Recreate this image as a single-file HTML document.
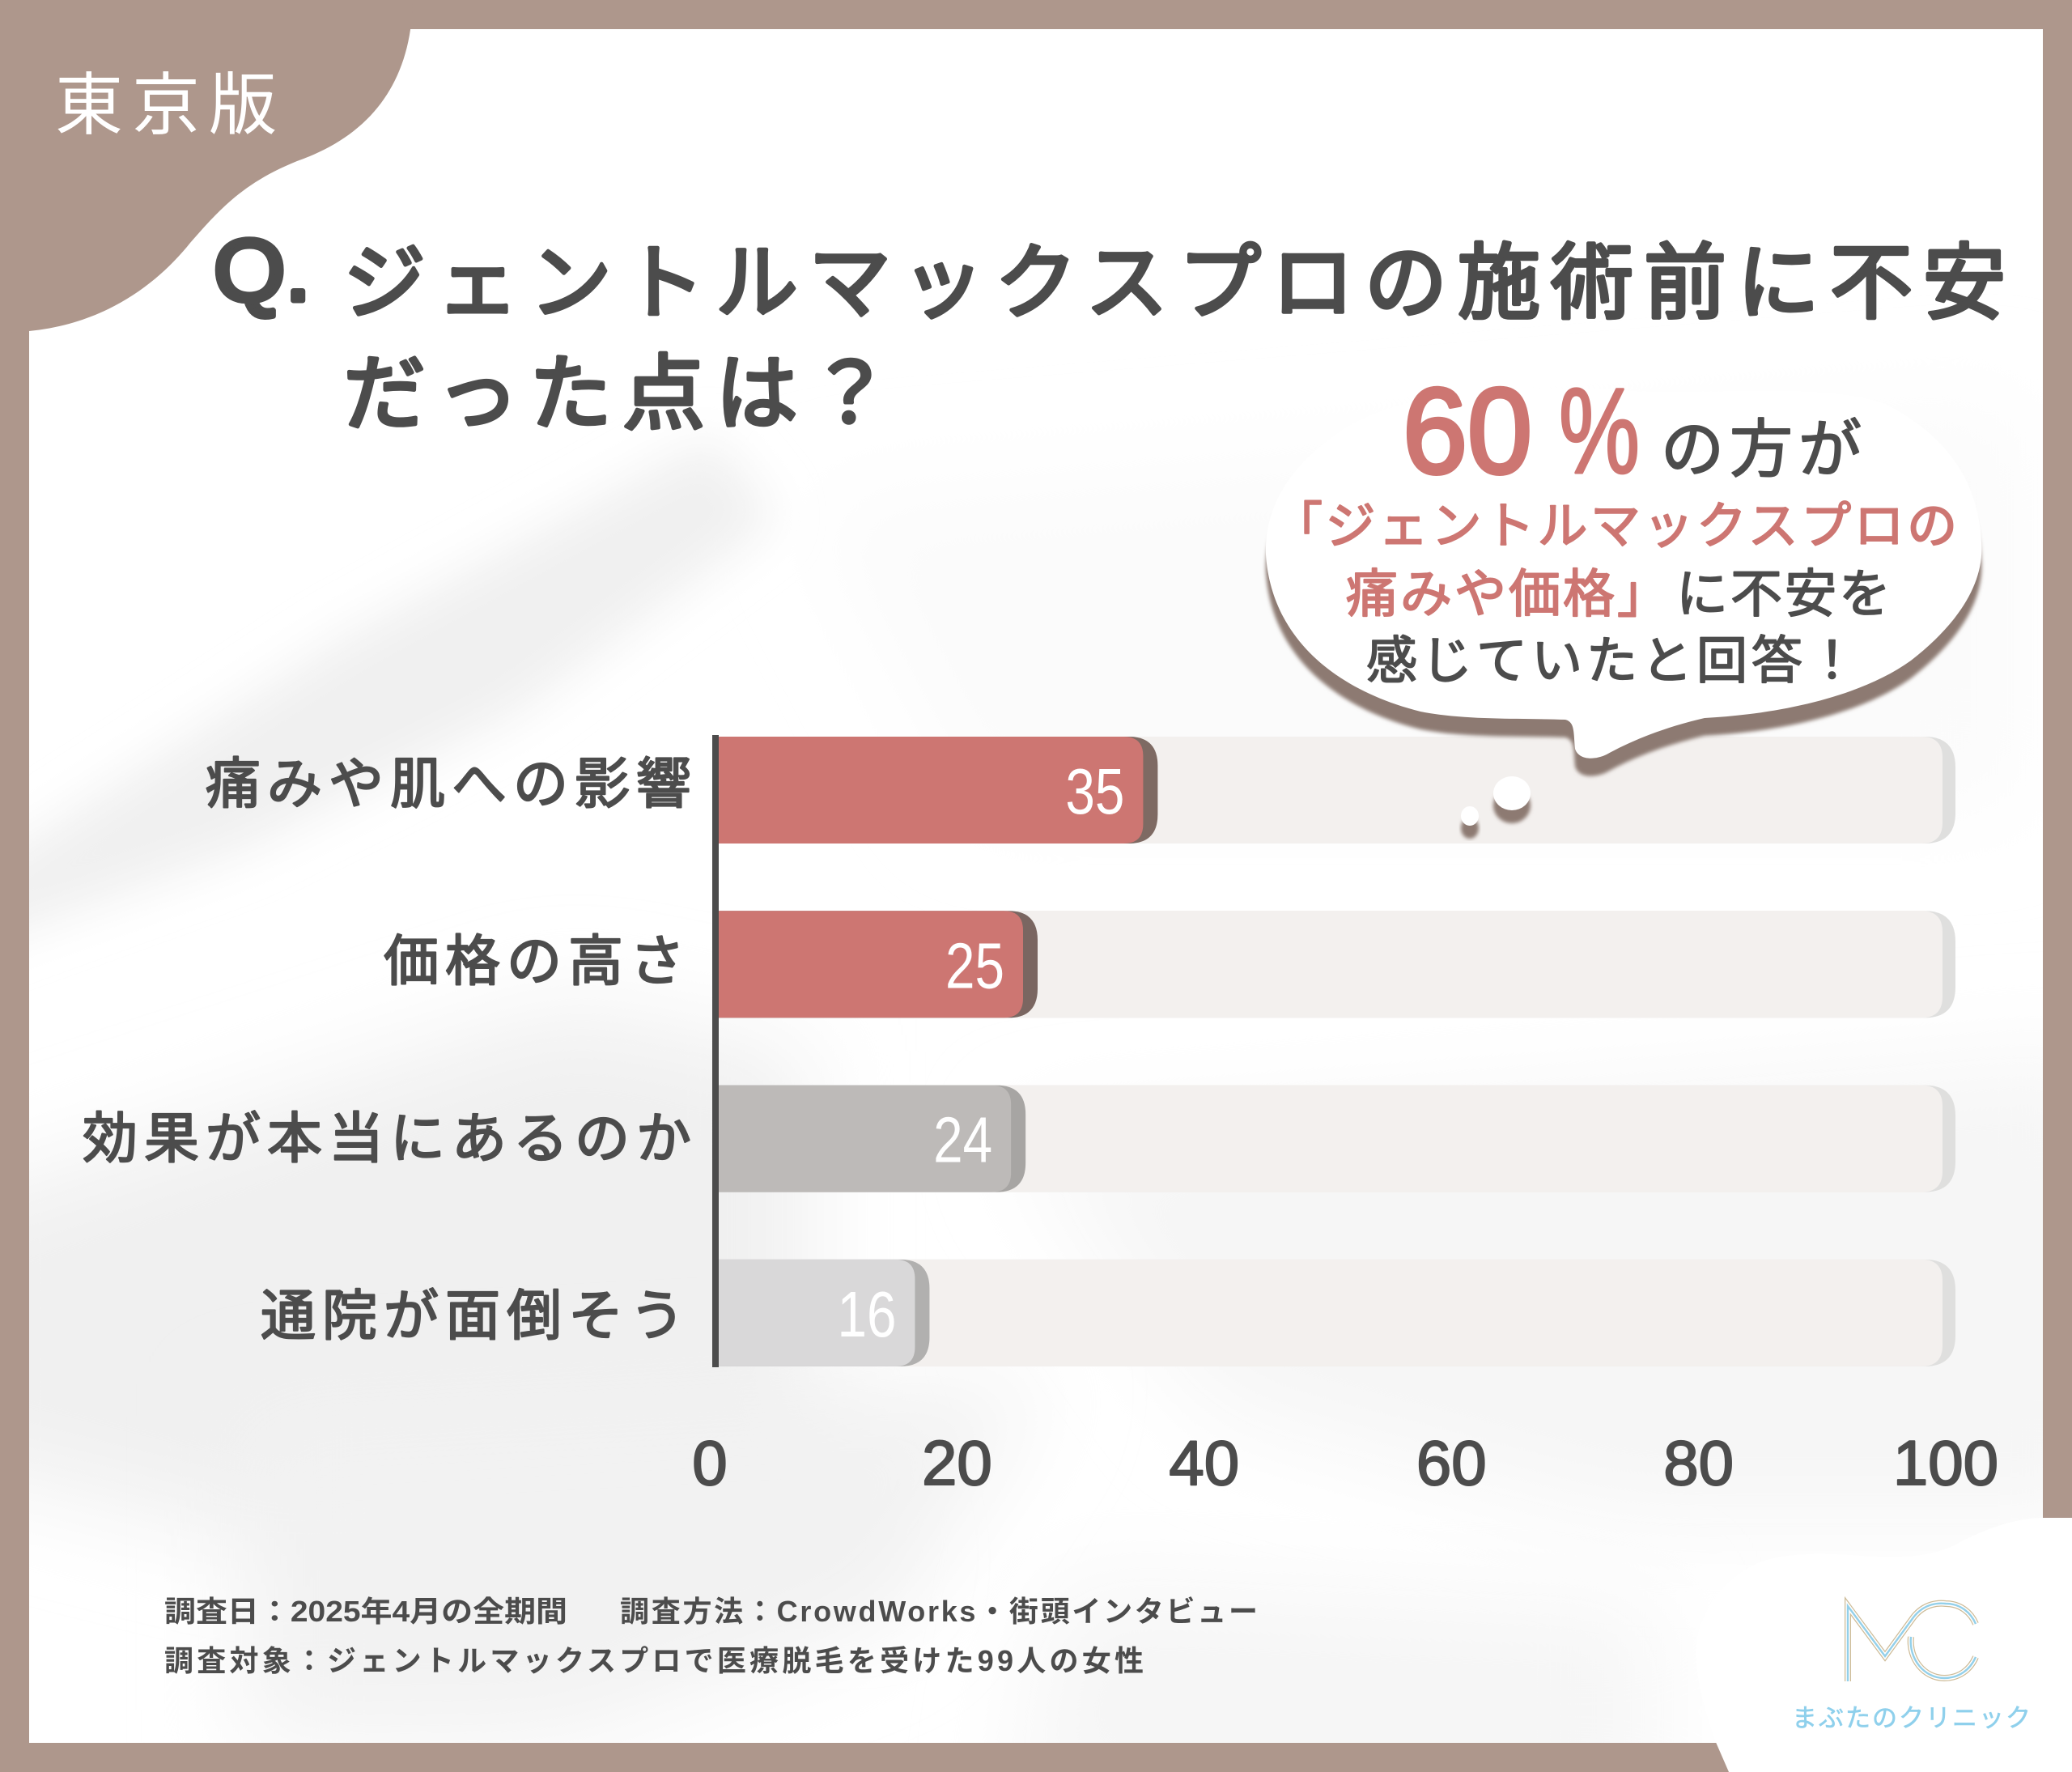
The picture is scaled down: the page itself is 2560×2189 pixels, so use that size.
<!DOCTYPE html>
<html lang="ja">
<head>
<meta charset="utf-8">
<title>ジェントルマックスプロの施術前に不安だった点は？</title>
<style>
html,body{margin:0;padding:0;background:#fff}
svg{display:block}
text{font-family:"Liberation Sans","Noto Sans CJK JP",sans-serif;fill:#4c4c4c;stroke-linejoin:round;stroke-linecap:round}
.round{stroke:#4c4c4c}
.pink{fill:#cd7672;stroke:#cd7672}
</style>
</head>
<body>
<svg id="chart" xmlns="http://www.w3.org/2000/svg" width="2560" height="2189" viewBox="0 0 2560 2189">
  <defs>
    <filter id="b60" x="-30%" y="-30%" width="160%" height="160%"><feGaussianBlur stdDeviation="60"/></filter>
    <filter id="b30" x="-30%" y="-30%" width="160%" height="160%"><feGaussianBlur stdDeviation="30"/></filter>
    <filter id="b3" x="-10%" y="-10%" width="120%" height="120%"><feGaussianBlur stdDeviation="2.5"/></filter>
    <clipPath id="panel"><rect x="36" y="36" width="2488" height="2117"/></clipPath>
  </defs>

  <rect width="2560" height="2189" fill="#ae978c"/>
  <rect x="36" y="36" width="2488" height="2117" fill="#ffffff"/>

  <g clip-path="url(#panel)">
    <path d="M1000 620 L2500 500 L2500 1000 L1200 1000Z" fill="#fbfbfb" filter="url(#b60)"/>
    <path d="M1250 1400 L2620 1300 L2620 1880 L2000 1880 L1500 1750Z" fill="#f6f6f6" filter="url(#b60)"/>
    <path d="M-60 1100 L420 790 L880 540 L960 640 L640 880 L300 1050 L-60 1180Z" fill="#f0f0f0" filter="url(#b30)"/>
    <path d="M-100 1500 L700 1240 L1000 1300 L1000 1700 L1100 1950 L300 1900 L-100 1800Z" fill="#f0f0f0" filter="url(#b60)"/>
    <path d="M300 1750 L1300 1700 L1100 2000 L700 2150 L300 2153Z" fill="#f2f2f2" filter="url(#b60)"/>
    <path d="M1300 1950 L2050 1980 L2050 2250 L1250 2250Z" fill="#f6f6f6" filter="url(#b60)"/>
  </g>

  <path d="M0 0 H510 C508 110 450 170 367 199 C300 226 270 260 235 300 C195 350 130 400 36 409 L0 412Z" fill="#ae978c"/>
  <text x="68" y="159" font-size="84" letter-spacing="11" style="fill:#fff">東京版</text>

  <text class="round" x="264" y="371" font-size="108" stroke-width="7" textLength="120" lengthAdjust="spacingAndGlyphs">Q.</text>
  <text class="round" x="424" y="385" font-size="102" letter-spacing="13" stroke-width="4.5">ジェントルマックスプロの施術前に不安</text>
  <text class="round" x="424" y="522" font-size="102" letter-spacing="13" stroke-width="4.5">だった点は？</text>

  <g id="plot"></g>

  <g>
    <path transform="translate(0,22)" filter="url(#b3)" fill="#8d7a72" d="M1564 685 C1570 780 1640 850 1755 879 C1810 890 1880 887 1934 889 C1946 892 1944 905 1946 925 C1950 938 1968 940 1985 932 C2010 918 2050 900 2106 887 C2200 882 2300 860 2361 816 C2420 770 2452 720 2448 670 C2445 600 2410 540 2329 499 C2250 470 2100 490 2000 482 C1880 475 1740 480 1660 530 C1600 570 1562 620 1564 685Z"/>
    <path fill="#ffffff" d="M1564 685 C1570 780 1640 850 1755 879 C1810 890 1880 887 1934 889 C1946 892 1944 905 1946 925 C1950 938 1968 940 1985 932 C2010 918 2050 900 2106 887 C2200 882 2300 860 2361 816 C2420 770 2452 720 2448 670 C2445 600 2410 540 2329 499 C2250 470 2100 490 2000 482 C1880 475 1740 480 1660 530 C1600 570 1562 620 1564 685Z"/>
    <ellipse cx="1868" cy="995" rx="23" ry="22" fill="#8d7a72" filter="url(#b3)"/>
    <ellipse cx="1868" cy="980" rx="23" ry="21" fill="#ffffff"/>
    <ellipse cx="1816" cy="1023" rx="11" ry="13" fill="#8d7a72" filter="url(#b3)"/>
    <ellipse cx="1816" cy="1008" rx="11" ry="12" fill="#ffffff"/>

    <text class="pink" x="1733" y="584" font-size="150" stroke-width="5" textLength="160" lengthAdjust="spacingAndGlyphs">60</text>
    <text class="pink" x="1926" y="584" font-size="150" stroke-width="3" textLength="100" lengthAdjust="spacingAndGlyphs">%</text>
    <text class="round" x="2052" y="582" font-size="78" letter-spacing="7" stroke-width="2">の方が</text>
    <text class="pink" x="1572" y="671" font-size="62" letter-spacing="3.5" stroke-width="2">「ジェントルマックスプロの</text>
    <text class="pink" x="1663" y="756" font-size="64" letter-spacing="3" stroke-width="2">痛みや価格」</text>
    <text class="round" x="2071" y="756" font-size="64" letter-spacing="3" stroke-width="1.8">に不安を</text>
    <text class="round" x="1688" y="838" font-size="63" letter-spacing="5" stroke-width="1.8">感じていたと回答！</text>
  </g>

  <g>
    <text x="203" y="2003" font-size="36" font-weight="700" textLength="498" lengthAdjust="spacingAndGlyphs">調査日：2025年4月の全期間</text>
    <text x="766" y="2003" font-size="36" font-weight="700" textLength="788" lengthAdjust="spacing">調査方法：CrowdWorks・街頭インタビュー</text>
    <text x="203" y="2064" font-size="36" font-weight="700" textLength="1210" lengthAdjust="spacing">調査対象：ジェントルマックスプロで医療脱毛を受けた99人の女性</text>
  </g>

  <g>
    <path fill="#ffffff" d="M2560 1875 H2524 C2490 1875 2450 1890 2418 1907 C2385 1925 2340 1925 2300 1922 C2260 1919 2210 1917 2174 1930 C2130 1948 2105 1990 2098 2017 C2090 2060 2105 2110 2119 2150 L2136 2189 H2560Z"/>
    <g fill="none" stroke-linejoin="miter">
      <path stroke="#cdbb97" stroke-width="8" d="M2283 2077 V1984 L2329 2046 L2364 1998 C2378 1980 2396 1980 2404 1981 C2422 1981 2435 1992 2441 2006"/>
      <path stroke="#ffffff" stroke-width="5.5" d="M2283 2077 V1984 L2329 2046 L2364 1998 C2378 1980 2396 1980 2404 1981 C2422 1981 2435 1992 2441 2006"/>
      <path stroke="#93d0ea" stroke-width="2.4" d="M2283 2077 V1984 L2329 2046 L2364 1998 C2378 1980 2396 1980 2404 1981 C2422 1981 2435 1992 2441 2006"/>
      <path stroke="#cdbb97" stroke-width="8" d="M2361 2022 C2358 2050 2378 2073 2402 2073 C2420 2073 2434 2063 2441 2047"/>
      <path stroke="#ffffff" stroke-width="5.5" d="M2361 2022 C2358 2050 2378 2073 2402 2073 C2420 2073 2434 2063 2441 2047"/>
      <path stroke="#93d0ea" stroke-width="2.4" d="M2361 2022 C2358 2050 2378 2073 2402 2073 C2420 2073 2434 2063 2441 2047"/>
    </g>
    <text x="2214" y="2133" font-size="31" letter-spacing="2" style="fill:#8fd0ec;stroke:#8fd0ec;stroke-width:.6">まぶたのクリニック</text>
  </g>
</svg>

<script>
const categories = ['痛みや肌への影響', '価格の高さ', '効果が本当にあるのか', '通院が面倒そう'];
const values = [35, 25, 24, 16];
const axisTicks = [0, 20, 40, 60, 80, 100];
const axisMax = 100;

const NS = 'http://www.w3.org/2000/svg';
const plot = document.getElementById('plot');

function barX(v) { return 893 + 14.84 * v; }
function tickX(v) { return 877 + (2404 - 877) * v / axisMax; }
function barTop(i) { return 910 + i * 215.3; }
function labelBaseline(i) { return 992 + i * 219; }
function labelRight(i) { return 862 - (i % 2) * 8; }
const barStart = 886;
const trackEnd = 2400;
const barHeight = 132;
const tipDepth = 18;

function roundedBar(x0, x1, y, h, r) {
  return 'M' + x0 + ' ' + y + ' H' + (x1 - r) + ' Q' + x1 + ' ' + y + ' ' + x1 + ' ' + (y + r) +
    ' V' + (y + h - r) + ' Q' + x1 + ' ' + (y + h) + ' ' + (x1 - r) + ' ' + (y + h) + ' H' + x0 + ' Z';
}

function barFill(v, i) { return ['#cd7672', '#cd7672', '#bdbab8', '#d9d8d9'][i]; }
function barEdge(v, i) { return ['#7e6a63', '#7a6661', '#a7a5a3', '#b1b0af'][i]; }

categories.forEach(function (cat, i) {
  const y = barTop(i);
  const end = barX(values[i]);

  const trackEdge = document.createElementNS(NS, 'path');
  
  
  trackEdge.setAttribute('d', roundedBar(barStart, trackEnd + 16, y, barHeight, 38));
  trackEdge.setAttribute('fill', '#dfdfde');
  plot.appendChild(trackEdge);

  const track = document.createElementNS(NS, 'path');
  
  
  track.setAttribute('d', roundedBar(barStart, trackEnd, y, barHeight, 26));
  track.setAttribute('fill', '#f3f0ee');
  plot.appendChild(track);

  const edge = document.createElementNS(NS, 'path');
  
  
  edge.setAttribute('d', roundedBar(barStart, end + tipDepth, y, barHeight, 36));
  edge.setAttribute('fill', barEdge(values[i], i));
  plot.appendChild(edge);

  const bar = document.createElementNS(NS, 'path');
  
  
  bar.setAttribute('d', roundedBar(barStart, end, y, barHeight, 24));
  bar.setAttribute('fill', barFill(values[i], i));
  plot.appendChild(bar);

  const val = document.createElementNS(NS, 'text');
  
  
  val.setAttribute('x', end - 23);
  val.setAttribute('y', y + 95);
  val.setAttribute('text-anchor', 'end');
  val.setAttribute('font-size', '80');
  val.setAttribute('textLength', '73');
  val.setAttribute('lengthAdjust', 'spacingAndGlyphs');
  val.style.fill = '#ffffff';
  val.textContent = values[i];
  plot.appendChild(val);

  const label = document.createElementNS(NS, 'text');
  
  
  label.setAttribute('class', 'round');
  label.setAttribute('x', labelRight(i));
  label.setAttribute('y', labelBaseline(i));
  label.setAttribute('text-anchor', 'end');
  label.setAttribute('font-size', '68');
  label.setAttribute('letter-spacing', '8');
  label.setAttribute('stroke-width', '2.2');
  label.textContent = cat;
  plot.appendChild(label);
});

const axisLine = document.createElementNS(NS, 'rect');


axisLine.setAttribute('x', 880);
axisLine.setAttribute('y', 908);
axisLine.setAttribute('width', 8);
axisLine.setAttribute('height', 781);
axisLine.setAttribute('fill', '#4c4c4c');
plot.appendChild(axisLine);

axisTicks.forEach(function (t) {
  const tick = document.createElementNS(NS, 'text');
  
  
  tick.setAttribute('class', 'round');
  tick.setAttribute('x', tickX(t));
  tick.setAttribute('y', 1834);
  tick.setAttribute('text-anchor', 'middle');
  tick.setAttribute('font-size', '78');
  tick.setAttribute('stroke-width', '2');
  tick.textContent = t;
  plot.appendChild(tick);
});
</script>
</body>
</html>
